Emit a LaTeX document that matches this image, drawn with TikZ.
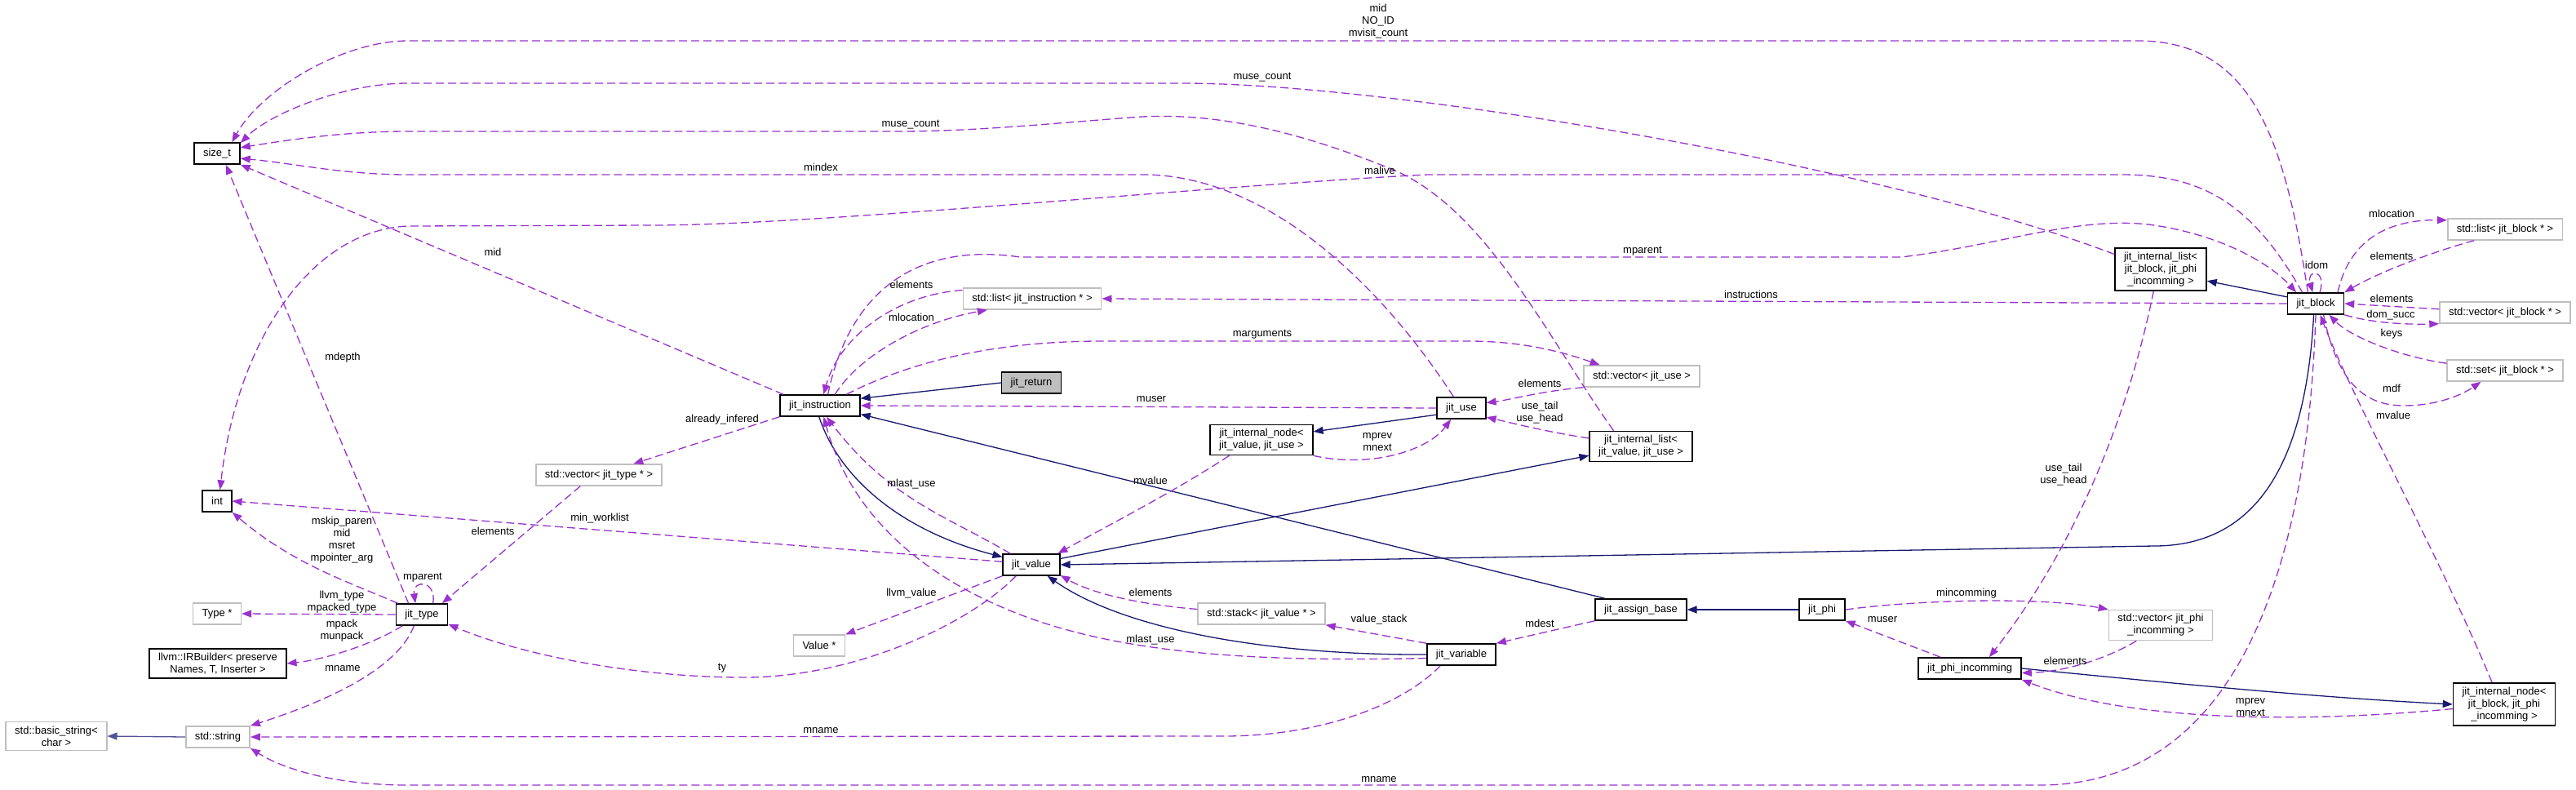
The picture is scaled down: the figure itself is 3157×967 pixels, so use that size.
\documentclass[tikz,border=0pt]{standalone}
\usepackage{fontspec}
\setmainfont{Liberation Sans}
\usetikzlibrary{arrows.meta}
\definecolor{edgeuse}{HTML}{9A32CD}
\definecolor{edgeinh}{HTML}{191970}
\definecolor{boxgray}{HTML}{BFBFBF}

\begin{document}
\begin{tikzpicture}[x=1pt,y=-1pt,
    cls/.style={draw=black,line width=1.5pt,fill=white,font=\fontsize{13}{15}\selectfont,
        align=center,inner xsep=11pt,inner ysep=5pt,minimum height=26pt},
    ext/.style={cls,draw=boxgray},
    cur/.style={cls,fill=boxgray},
    usage/.style={draw=edgeuse,line width=1.3pt,dash pattern=on 10pt off 5pt,
        -{Triangle[length=12pt,width=9pt]}},
    inherit/.style={draw=edgeinh,line width=1.3pt,-{Triangle[length=12pt,width=9pt]}},
    lbl/.style={font=\fontsize{13}{15}\selectfont,align=center,inner sep=0pt}]
    \useasboundingbox (0,0) rectangle (3157,967);

    % left column
    \node[cls] (szt) at (266,188) {size\_t};
    \node[cls] (int) at (266,614) {int};
    \node[ext] (typ) at (266,752) {Type *};
    \node[cls] (irb) at (267,813) {llvm::IRBuilder< preserve\\Names, T, Inserter >};
    \node[ext] (bstr) at (69,902) {std::basic\_string<\\char >};
    \node[ext] (str) at (267,903) {std::string};
    \node[cls] (jtype) at (517,753) {jit\_type};
    \node[ext] (vtype) at (734,582) {std::vector< jit\_type * >};

    % middle
    \node[cls] (instr) at (1005,497) {jit\_instruction};
    \node[cur] (ret) at (1264,469) {jit\_return};
    \node[ext] (linstr) at (1265,366) {std::list< jit\_instruction * >};
    \node[cls] (val) at (1264,692) {jit\_value};
    \node[ext] (vptr) at (1004,791) {Value *};
    \node[cls] (nval) at (1546,539) {jit\_internal\_node<\\jit\_value, jit\_use >};
    \node[ext] (stk) at (1546,752) {std::stack< jit\_value * >};
    \node[cls] (use) at (1791,500) {jit\_use};
    \node[ext] (vuse) at (2012,461) {std::vector< jit\_use >};
    \node[cls] (lval) at (2011,547) {jit\_internal\_list<\\jit\_value, jit\_use >};
    \node[cls] (asg) at (2011,747) {jit\_assign\_base};
    \node[cls] (phi) at (2233,747) {jit\_phi};
    \node[cls] (var) at (1791,802) {jit\_variable};

    % right
    \node[cls] (pinc) at (2414,819) {jit\_phi\_incomming};
    \node[ext] (vphi) at (2648,766) {std::vector< jit\_phi\\\_incomming >};
    \node[cls] (lblk) at (2648,330) {jit\_internal\_list<\\jit\_block, jit\_phi\\\_incomming >};
    \node[cls] (blk) at (2838,372) {jit\_block};
    \node[cls] (nblk) at (3069,863) {jit\_internal\_node<\\jit\_block, jit\_phi\\\_incomming >};
    \node[ext] (lstb) at (3070,281) {std::list< jit\_block * >};
    \node[ext] (vecb) at (3070,383) {std::vector< jit\_block * >};
    \node[ext] (setb) at (3070,454) {std::set< jit\_block * >};

    % inheritance
    \draw[inherit] (ret.west) -- (instr.10);
    \draw[inherit] (instr.-95) .. controls (1030,590) and (1110,652) .. (val.165);
    \draw[inherit] (val.12) -- (lval.190);
    \draw[inherit] (use.195) -- (nval.9);
    \draw[inherit] ([xshift=-44pt]asg.north) -- (instr.-12);
    \draw[inherit] (blk.-100) .. controls (2826,560) and (2770,669) .. (2640,669) -- (val.east);
    \draw[inherit] (var.west) .. controls (1560,803) and (1380,773) .. (val.-35);
    \draw[inherit] (phi.west) -- (asg.east);
    \draw[inherit] (blk.167) -- (lblk.-14);
    \draw[inherit] (pinc.east) .. controls (2700,841) and (2850,855) .. (nblk.west);
    \draw[inherit,draw=edgeinh!75] (str.west) -- (bstr.east);

    % members -> size_t
    \draw[usage] (blk.125) .. controls (2800,170) and (2760,50) .. (2620,50) -- (500,50)
        .. controls (420,50) and (320,110) .. (szt.37);
    \draw[usage] (lblk.162) .. controls (2300,200) and (1700,102) .. (1450,102) -- (500,102)
        .. controls (420,102) and (330,140) .. (szt.24);
    \draw[usage] (lval.150) .. controls (1900,420) and (1820,250) .. (1700,205)
        .. controls (1600,165) and (1500,138) .. (1400,143)
        .. controls (1300,150) and (1200,161) .. (1100,161) -- (500,161)
        .. controls (420,161) and (350,172) .. (szt.14);
    \draw[usage] (use.125) .. controls (1700,360) and (1560,214) .. (1400,214) -- (500,214)
        .. controls (420,214) and (360,200) .. (szt.-12);
    \draw[usage] (instr.163) -- (szt.south east);
    \draw[usage] (jtype.140) -- (szt.-52);

    % members -> int
    \draw[usage] (blk.140) .. controls (2760,250) and (2700,214) .. (2600,214) -- (1750,214)
        .. controls (1500,226) and (1000,276) .. (800,276) -- (500,277)
        .. controls (380,282) and (290,420) .. (int.75);
    \draw[usage] (val.174) -- (int.east);
    \draw[usage] (jtype.155) .. controls (430,714) and (360,692) .. (int.south east);

    % jit_type
    \draw[usage] (jtype.45) .. controls (535,710) and (505,710) .. (jtype.120);
    \draw[usage] (vtype.-149) -- (jtype.29);
    \draw[usage] (jtype.west) -- (typ.east);
    \draw[usage] (jtype.-150) .. controls (460,788) and (400,808) .. (irb.east);
    \draw[usage] (jtype.-125) .. controls (490,813) and (420,853) .. (str.north east);
    \draw[usage] (instr.south west) -- (vtype.18);
    \draw[usage] (val.-144) .. controls (1190,763) and (1050,830) .. (912,830)
        .. controls (780,830) and (640,803) .. (jtype.-20);

    % jit_instruction
    \draw[usage] (linstr.173) .. controls (1100,361) and (1030,410) .. (instr.73);
    \draw[usage] (instr.37) .. controls (1050,440) and (1120,396) .. (linstr.-166);
    \draw[usage] (instr.55) .. controls (1040,360) and (1120,296) .. (1250,315) -- (2330,315)
        .. controls (2450,301) and (2550,263) .. (2640,276)
        .. controls (2720,288) and (2780,321) .. (blk.150);
    \draw[usage] (instr.23) .. controls (1100,451) and (1200,418) .. (1350,418) -- (1800,418)
        .. controls (1870,418) and (1920,433) .. (vuse.165);
    \draw[usage] (use.west) -- (instr.east);
    \draw[usage] (val.152) .. controls (1160,632) and (1090,612) .. (instr.-60);
    \draw[usage] (var.-174) .. controls (1550,811) and (1380,803) .. (1250,753)
        .. controls (1120,703) and (1040,622) .. (instr.-72);

    % jit_value
    \draw[usage] (nval.-154) .. controls (1440,602) and (1350,648) .. (val.23);
    \draw[usage] (stk.176) .. controls (1400,741) and (1340,728) .. (val.-20);
    \draw[usage] (val.south west) -- (vptr.north east);

    % jit_use
    \draw[usage] (vuse.south west) .. controls (1890,479) and (1850,490) .. (use.12);
    \draw[usage] (lval.171) .. controls (1900,530) and (1860,520) .. (use.-20);
    \draw[usage] (nval.south east) .. controls (1680,574) and (1750,552) .. (use.-133);

    % jit_variable
    \draw[usage] (var.north west) -- (stk.south east);
    \draw[usage] (asg.south west) -- (var.north east);
    \draw[usage] (var.-152) .. controls (1720,863) and (1620,902) .. (1500,902) -- (str.east);
    \draw[usage] (blk.-90) .. controls (2828,700) and (2740,962) .. (2500,962) -- (500,962)
        .. controls (400,962) and (340,938) .. (str.south east);

    % jit_phi
    \draw[usage] (phi.east) .. controls (2350,735) and (2500,731) .. (vphi.north west);
    \draw[usage] (pinc.159) -- (phi.south east);
    \draw[usage] (vphi.-147) .. controls (2580,808) and (2530,823) .. (pinc.-5);
    \draw[usage] (lblk.-108) .. controls (2600,550) and (2520,700) .. (pinc.30);
    \draw[usage] (nblk.-175) .. controls (2800,888) and (2600,881) .. (pinc.south east);

    % jit_block
    \draw[usage] (blk.70) .. controls (2852,329) and (2826,329) .. (blk.105);
    \draw[usage] (blk.west) -- (linstr.east);
    \draw[usage] (blk.27) .. controls (2880,291) and (2930,269) .. (lstb.171);
    \draw[usage] (lstb.-160) .. controls (2990,306) and (2920,331) .. (blk.north east);
    \draw[usage] (vecb.177) -- (blk.east);
    \draw[usage] (blk.south east) .. controls (2900,394) and (2940,398) .. (vecb.south west);
    \draw[usage] (setb.173) .. controls (2940,437) and (2880,412) .. (blk.-40);
    \draw[usage] (blk.-55) .. controls (2865,472) and (2900,497) .. (2946,497)
        .. controls (2990,497) and (3020,482) .. (setb.-155);
    \draw[usage] (nblk.119) .. controls (2990,682) and (2880,482) .. (blk.-68);

    % labels
    \node[lbl] (lmid) at (1689,26) {mid\\NO\_ID\\mvisit\_count};
    \node[lbl] (lusecnta) at (1547,95) {muse\_count};
    \node[lbl] (lusecntb) at (1116,153) {muse\_count};
    \node[lbl] (lindex) at (1006,205) {mindex};
    \node[lbl] (lalive) at (1691,209) {malive};
    \node[lbl] (lidi) at (604,309) {mid};
    \node[lbl] (lparent) at (2013,308) {mparent};
    \node[lbl] (linstrs) at (2146,361) {instructions};
    \node[lbl] (lelema) at (1117,349) {elements};
    \node[lbl] (lloca) at (1117,389) {mlocation};
    \node[lbl] (largs) at (1547,410) {marguments};
    \node[lbl] (ldepth) at (420,438) {mdepth};
    \node[lbl] (lelemb) at (1887,470) {elements};
    \node[lbl] (lusera) at (1411,489) {muser};
    \node[lbl] (ltaila) at (1887,506) {use\_tail\\use\_head};
    \node[lbl] (linfer) at (885,514) {already\_infered};
    \node[lbl] (lpreva) at (1688,542) {mprev\\mnext};
    \node[lbl] (lusea) at (1117,593) {mlast\_use};
    \node[lbl] (lvala) at (1410,589) {mvalue};
    \node[lbl] (lwork) at (735,635) {min\_worklist};
    \node[lbl] (lelemc) at (604,651) {elements};
    \node[lbl] (lskip) at (419,662) {mskip\_paren\\mid\\msret\\mpointer\_arg};
    \node[lbl] (lparentb) at (518,708) {mparent};
    \node[lbl] (lllvm) at (1117,727) {llvm\_value};
    \node[lbl] (lelemd) at (1410,726) {elements};
    \node[lbl] (ltype) at (419,738) {llvm\_type\\mpacked\_type};
    \node[lbl] (lstack) at (1690,759) {value\_stack};
    \node[lbl] (ldest) at (1887,764) {mdest};
    \node[lbl] (luserb) at (2307,759) {muser};
    \node[lbl] (lincom) at (2410,727) {mincomming};
    \node[lbl] (lpack) at (419,773) {mpack\\munpack};
    \node[lbl] (luseb) at (1410,784) {mlast\_use};
    \node[lbl] (lty) at (885,819) {ty};
    \node[lbl] (lnamea) at (420,819) {mname};
    \node[lbl] (lnameb) at (1006,895) {mname};
    \node[lbl] (lnamec) at (1690,955) {mname};
    \node[lbl] (ltailb) at (2529,582) {use\_tail\\use\_head};
    \node[lbl] (lvalb) at (2933,509) {mvalue};
    \node[lbl] (lereme) at (2531,810) {elements};
    \node[lbl] (lprevb) at (2758,867) {mprev\\mnext};
    \node[lbl] (llocb) at (2931,262) {mlocation};
    \node[lbl] (lelemf) at (2931,314) {elements};
    \node[lbl] (lidom) at (2839,325) {idom};
    \node[lbl] (lelemg) at (2931,366) {elements};
    \node[lbl] (lsucc) at (2930,386) {dom\_succ};
    \node[lbl] (lkeys) at (2931,409) {keys};
    \node[lbl] (lmdf) at (2931,476) {mdf};
\end{tikzpicture}
\end{document}
